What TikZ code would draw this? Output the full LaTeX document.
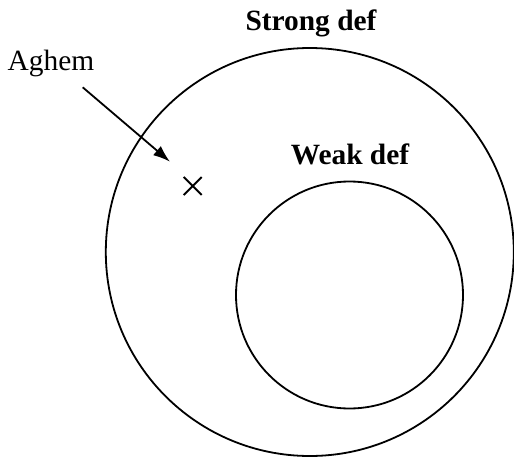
\documentclass[tikz,border=0pt]{standalone}
\usepackage{fontspec}
\setmainfont{Liberation Serif}
\usetikzlibrary{arrows.meta,shapes.misc}
\begin{document}
\begin{tikzpicture}[x=1pt,y=-1pt,
  ring/.style={circle,draw,line width=1.8pt,inner sep=0pt},
  lbl/.style={anchor=base,inner sep=0pt,font=\fontsize{29.4}{35}\selectfont},
  pointer/.style={line width=1.8pt,-{Latex[length=17pt,width=12pt]}}]
\useasboundingbox (0,0) rectangle (514,458);
\node[ring,minimum size=408pt] (strong) at (309.8,252) {};
\node[ring,minimum size=227pt] (weak) at (349.5,295) {};
\node[lbl,font=\fontsize{29.4}{35}\selectfont\bfseries] (strongl) at (311,30) {Strong def};
\node[lbl,font=\fontsize{29.4}{35}\selectfont\bfseries] (weakl) at (350,164) {Weak def};
\node[lbl] (aghem) at (51,70) {Aghem};
\node[cross out,draw,line width=2pt,minimum size=16pt,inner sep=0pt] (mark) at (192.7,186) {};
\coordinate (from) at (82.7,87.3);
\coordinate (tip) at (170,161.7);
\draw[pointer] (from) -- (tip);
\end{tikzpicture}
\end{document}
